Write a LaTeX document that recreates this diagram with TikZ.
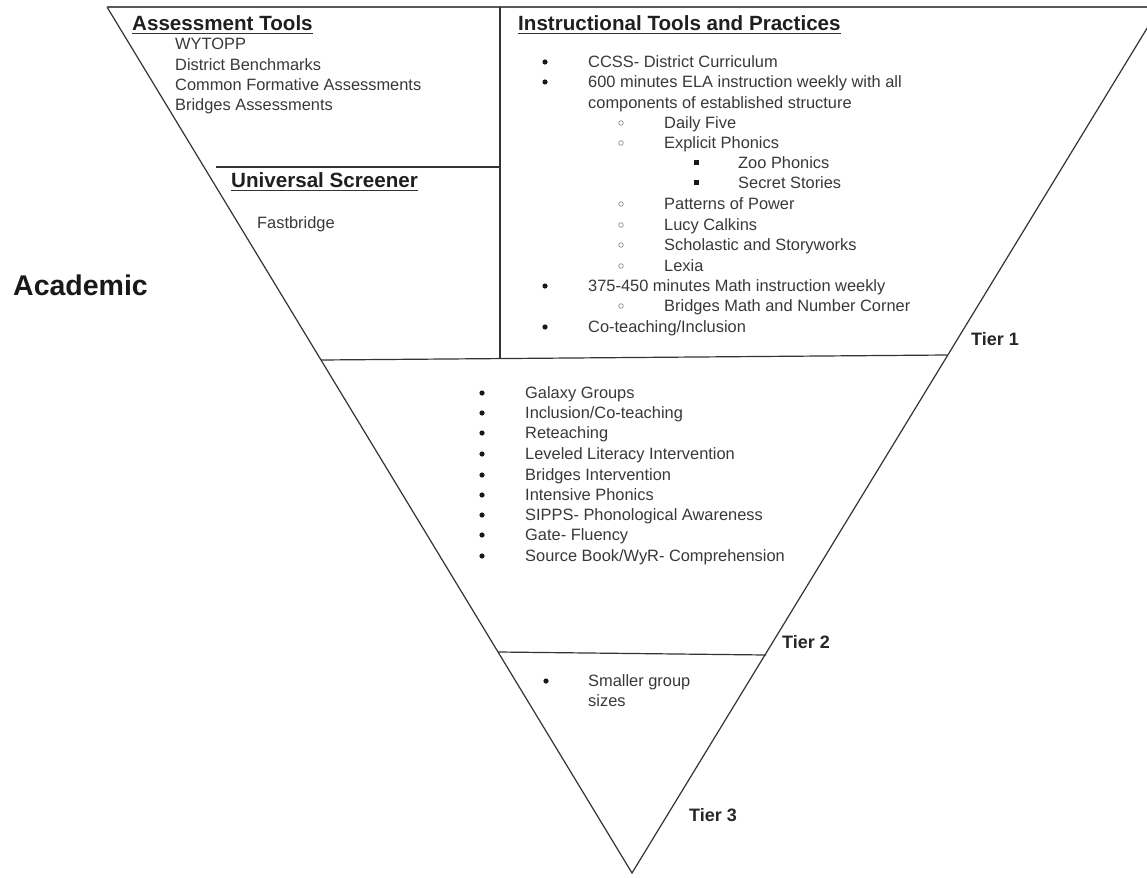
\documentclass[tikz,border=0pt]{standalone}
\usepackage{fontspec}
\setmainfont{Liberation Sans}
\begin{document}
\begin{tikzpicture}[x=1pt,y=-1pt,
  edge/.style={draw=black!80,line width=1.2pt},
  topedge/.style={draw=black!65,line width=2.6pt},
  body/.style={anchor=base west,inner sep=0pt,text=black!78,font=\fontsize{16.4}{20}\selectfont},
  head/.style={anchor=base west,inner sep=0pt,text=black!88,font=\fontsize{20.6}{24}\selectfont\bfseries},
  tier/.style={anchor=base west,inner sep=0pt,text=black!85,font=\fontsize{18}{22}\selectfont\bfseries},
  uline/.style={draw=black!80,line width=1pt},
  dotb/.style={fill=black!90},
  circb/.style={draw=black!45,line width=0.7pt},
  sqb/.style={fill=black!90}]
\useasboundingbox (0,0) rectangle (1147,877);
\clip (0,0) rectangle (1147,877);
% outline coordinates
\coordinate (TL) at (107,7);
\coordinate (TR) at (1160,7);
\coordinate (AP) at (632,873);
\coordinate (T1L) at (321,360);
\coordinate (T1R) at (947,355);
\coordinate (VT) at (500,7);
\coordinate (VB) at (500,359);
\coordinate (USL) at (216,167);
\coordinate (USR) at (499,167);
\coordinate (T2L) at (498,652);
\coordinate (T2R) at (766,655);
\draw[edge] (TL) -- (AP) -- (TR);
\draw[topedge] (TL) -- (TR);
\draw[edge] (T1L) -- (T1R);
\draw[edge] (VT) -- (VB);
\draw[edge] (USL) -- (USR);
\draw[edge] (T2L) -- (T2R);
% side label
\node[anchor=base west,inner sep=0pt,text=black!90,font=\fontsize{28.5}{32}\selectfont\bfseries] (acad) at (13,295) {Academic};
% headers
\node[head] (hA) at (132,31) {Assessment Tools};
\draw[uline] ([yshift=-2.5pt]hA.base west) -- ([yshift=-2.5pt]hA.base east);
\node[head] (hI) at (518,31) {Instructional Tools and Practices};
\draw[uline] ([yshift=-2.5pt]hI.base west) -- ([yshift=-2.5pt]hI.base east);
\node[head] (hU) at (231,188) {Universal Screener};
\draw[uline] ([yshift=-2.5pt]hU.base west) -- ([yshift=-2.5pt]hU.base east);
% assessment items
\node[body] (a1) at (175,49.5) {WYTOPP};
\node[body] (a2) at (175,70.5) {District Benchmarks};
\node[body] (a3) at (175,90.5) {Common Formative Assessments};
\node[body] (a4) at (175,110.5) {Bridges Assessments};
\node[body] (fb) at (257,228.5) {Fastbridge};
% instructional list
\node[body] (i1) at (588,67.5) {CCSS- District Curriculum};
\node[body] (i2) at (588,87.5) {600 minutes ELA instruction weekly with all};
\node[body] (i3) at (588,108.5) {components of established structure};
\node[body] (i4) at (664,128.5) {Daily Five};
\node[body] (i5) at (664,148.5) {Explicit Phonics};
\node[body] (i6) at (738,168.5) {Zoo Phonics};
\node[body] (i7) at (738,188.5) {Secret Stories};
\node[body] (i8) at (664,209.5) {Patterns of Power};
\node[body] (i9) at (664,230.5) {Lucy Calkins};
\node[body] (i10) at (664,250.5) {Scholastic and Storyworks};
\node[body] (i11) at (664,271.5) {Lexia};
\node[body] (i12) at (588,291.5) {375-450 minutes Math instruction weekly};
\node[body] (i13) at (664,311.5) {Bridges Math and Number Corner};
\node[body] (i14) at (588,332.5) {Co-teaching/Inclusion};
\foreach \yy in {62,82,286,327} \fill[dotb] (545,\yy) circle (2.6pt);
\foreach \yy in {123,143,204,225,245,266,306} \draw[circb] (621,\yy) circle (2.3pt);
\foreach \yy in {163,183} \fill[sqb] (693.5,\yy-2.5) rectangle (698.5,\yy+2.5);
% tier 2 list
\node[body] (s1) at (525,398.5) {Galaxy Groups};
\node[body] (s2) at (525,418.5) {Inclusion/Co-teaching};
\node[body] (s3) at (525,438.5) {Reteaching};
\node[body] (s4) at (525,459.5) {Leveled Literacy Intervention};
\node[body] (s5) at (525,480.5) {Bridges Intervention};
\node[body] (s6) at (525,500.5) {Intensive Phonics};
\node[body] (s7) at (525,520.5) {SIPPS- Phonological Awareness};
\node[body] (s8) at (525,540.5) {Gate- Fluency};
\node[body] (s9) at (525,561.5) {Source Book/WyR- Comprehension};
\foreach \yy in {393,413,433,454,475,495,515,535,556} \fill[dotb] (482,\yy) circle (2.6pt);
% tier 3
\node[body] (t1) at (588,686.5) {Smaller group};
\node[body] (t2) at (588,706) {sizes};
\fill[dotb] (546,681) circle (2.6pt);
% tier labels
\node[tier] (L1) at (971,345) {Tier 1};
\node[tier] (L2) at (782,648) {Tier 2};
\node[tier] (L3) at (689,821) {Tier 3};
\end{tikzpicture}
\end{document}
